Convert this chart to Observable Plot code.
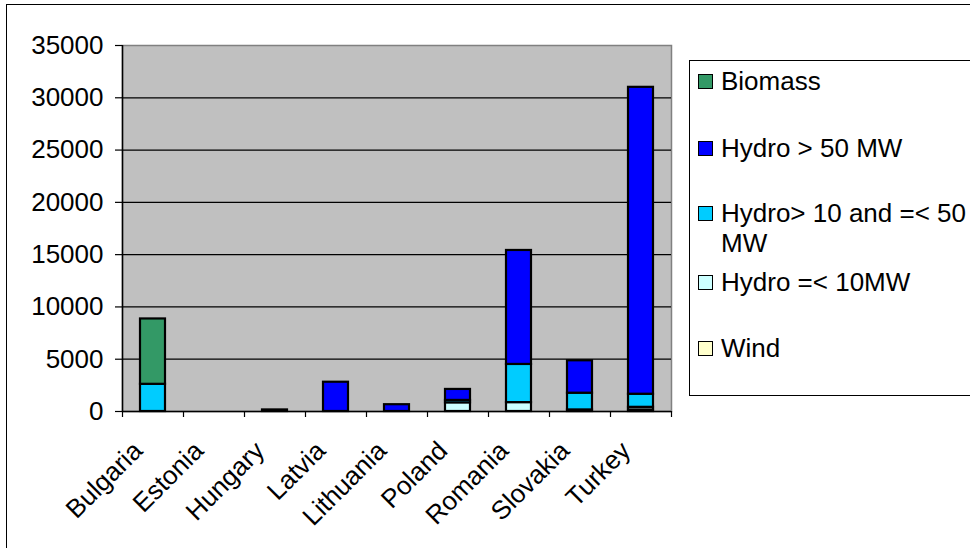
<!DOCTYPE html>
<html><head><meta charset="utf-8">
<script src="https://cdn.jsdelivr.net/npm/d3@7"></script>
<script src="https://cdn.jsdelivr.net/npm/@observablehq/plot@0.6"></script>
<style>
body{margin:0;background:#fff;font-family:"Liberation Sans",Arial,sans-serif}
#wrap{position:relative;width:970px;height:548px;overflow:hidden;background:#fff}
#chart{position:absolute;left:0;top:0}
#outer{position:absolute;left:6px;top:4px;width:1000px;height:600px;border-left:1.5px solid #000;border-top:1.5px solid #000;pointer-events:none}
#legend{position:absolute;left:689px;top:60px;width:300px;height:334px;border:1px solid #000;background:#fff}
.item{position:absolute;left:8px;font-size:26px;line-height:30px;color:#000}
.sw{position:absolute;left:0;top:8px;width:13px;height:13px;border:1.5px solid #000}
.lab{position:absolute;left:23px;top:0;width:262px;white-space:normal}
</style></head>
<body>
<div id="wrap"><div id="chart"></div><div id="outer"></div><div id="legend"></div></div>
<script>
const categories = ["Bulgaria","Estonia","Hungary","Latvia","Lithuania","Poland","Romania","Slovakia","Turkey"];
const seriesNames = ["Wind","Hydro =< 10MW","Hydro> 10 and =< 50 MW","Hydro > 50 MW","Biomass"];
const seriesColors = ["#ffffcc","#ccffff","#00ccff","#0000ff","#339966"];
const wind       = [0,    0, 0,   0,    0,   0,    0,     0,    150];
const hydroSmall = [0,    0, 0,   0,    0,   830,  850,   150,  250];
const hydroMid   = [2600, 0, 0,   0,    0,   230,  3650,  1600, 1250];
const hydroLarge = [0,    0, 150, 2800, 650, 1050, 10900, 3100, 29350];
const biomass    = [6250, 0, 0,   0,    0,   0,    0,     0,    0];
const yTicks = [0,5000,10000,15000,20000,25000,30000,35000];
const gridTicks = [5000,10000,15000,20000,25000,30000];
const legendOrder = ["Biomass","Hydro > 50 MW","Hydro> 10 and =< 50 MW","Hydro =< 10MW","Wind"];

const seriesValues = [wind, hydroSmall, hydroMid, hydroLarge, biomass];
const rows = [];
seriesNames.forEach((s, si) => {
  categories.forEach((c, ci) => {
    const v = seriesValues[si][ci];
    if (v > 0) rows.push({category: c, series: s, value: v});
  });
});

const halfStep = (671 - 122) / categories.length / 2;

const chart = Plot.plot({
  width: 970,
  height: 548,
  marginLeft: 122,
  marginRight: 299,
  marginTop: 45,
  marginBottom: 137,
  style: {fontFamily: "'Liberation Sans', Arial, sans-serif", fontSize: "26px", background: "transparent", color: "#000"},
  x: {domain: categories, paddingInner: 0.59, paddingOuter: 0.295, label: null, axis: null},
  y: {domain: [0, 35000], label: null, axis: null},
  color: {domain: seriesNames, range: seriesColors},
  marks: [
    Plot.frame({fill: "#c0c0c0", stroke: "#808080", strokeWidth: 1.5}),
    Plot.gridY(gridTicks, {stroke: "#000", strokeOpacity: 1, strokeWidth: 1.2}),
    Plot.barY(rows, {x: "category", y: "value", z: "series", fill: "series", stroke: "#000", strokeWidth: 2.2}),
    Plot.ruleY([0], {stroke: "#000", strokeWidth: 1.5}),
    Plot.ruleX([categories[0]], {dx: -halfStep, stroke: "#000", strokeWidth: 1.5}),
    Plot.axisY({ticks: yTicks, tickSize: 7, tickPadding: 12, tickFormat: d => String(d), stroke: "#000", strokeWidth: 1.2, fontSize: 26}),
    Plot.axisX({ticks: categories, tickSize: 6, tickFormat: () => "", dx: -halfStep, stroke: "#000", strokeWidth: 1.2}),
    Plot.axisX({ticks: [categories[categories.length - 1]], tickSize: 6, tickFormat: () => "", dx: halfStep, stroke: "#000", strokeWidth: 1.2}),
    Plot.axisX({ticks: categories, tickSize: 0, tickPadding: 35, dx: -15, tickRotate: -45, fontSize: 26})
  ]
});
document.getElementById("chart").appendChild(chart);

const legendCenters = {"Biomass": 81, "Hydro > 50 MW": 148, "Hydro> 10 and =< 50 MW": 213, "Hydro =< 10MW": 282, "Wind": 348};
const legend = document.getElementById("legend");
legendOrder.forEach(name => {
  const item = document.createElement("div");
  item.className = "item";
  item.style.top = (legendCenters[name] - 61 - 15) + "px";
  const sw = document.createElement("div");
  sw.className = "sw";
  sw.style.background = seriesColors[seriesNames.indexOf(name)];
  const lab = document.createElement("div");
  lab.className = "lab";
  lab.textContent = name;
  item.appendChild(sw);
  item.appendChild(lab);
  legend.appendChild(item);
});
</script>
</body></html>
